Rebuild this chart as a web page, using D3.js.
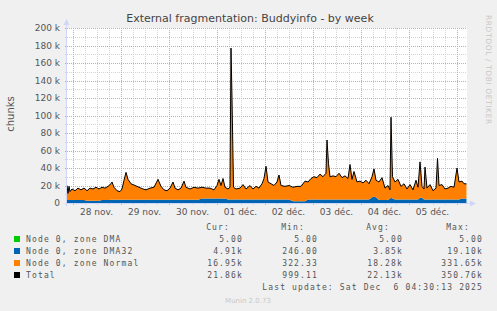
<!DOCTYPE html>
<html>
<head>
<meta charset="utf-8">
<script src="https://cdn.jsdelivr.net/npm/d3@7"></script>
<style>
  body { margin: 0; background: #f0f0f0; }
  svg { display: block; }
</style>
</head>
<body>
<script>
// hours after the start of the graph (Nov 27 21:15)
const hours = [0, 0.5, 1, 1.5, 2.5, 4, 5.5, 7, 8.5, 10, 11.5, 13, 14.5, 16, 17.5, 19, 20.5, 22, 22.5, 23.5,
  25, 26.5, 27.5, 28.5, 29.5, 30.5, 32, 34, 36, 38, 39.5, 41.5, 43.5, 45.5, 47, 48.5, 50, 51.5, 53, 54,
  55.5, 57, 58.5, 59.5, 61.5, 63.5, 65.5, 67.5, 69.5, 71.5, 73.5, 75, 76, 77, 78, 79, 80.5, 81.5, 82, 82.5,
  83.25, 84.5, 86.5, 88, 89.5, 91.5, 93, 94.5, 96, 97.5, 98.5, 99.5, 100.5, 102, 103.5, 105, 106, 107, 109, 111,
  113, 115, 117, 119, 120.5, 122, 123.5, 125, 126.5, 128, 129.5, 130, 130.75, 131.5, 133, 134.5, 136, 137.5, 139, 140.5,
  141.5, 142.5, 143.5, 145, 146.5, 148, 149.5, 151, 152.5, 153.5, 154.5, 156, 157.5, 159, 160.5, 161.5, 162, 162.75, 164, 165.5,
  167, 168.5, 170, 171.5, 173, 174.5, 175.5, 176.5, 177.5, 178.5, 179, 180, 181.5, 183, 184.5, 185.25, 186, 187.5, 189, 190.5,
  192, 193.5, 195, 196, 197.5, 198.5, 199.75];

// thousands of chunks
const dmaValue = 0.005;
const dma32 = [3.5, 3.5, 3.5, 3.5, 3.5, 3.5, 3.5, 3.5, 3.5, 2.5, 2.5, 2.5, 2.5, 2.5, 3.5, 3.5, 3.5, 3.8, 3.8, 3.8,
  3.8, 3.8, 3.8, 3.8, 3.8, 3.8, 3.8, 3.8, 3.8, 3.8, 3.8, 3.8, 3.8, 3.8, 3.8, 3.8, 3.8, 3.8, 3.8, 3.8,
  3.8, 3.8, 3.8, 3.8, 3.8, 3.8, 3.8, 5, 5, 5, 5, 5, 5, 5, 5, 5, 4, 4, 4, 4,
  4, 4, 4, 4, 4, 4, 4, 4, 4, 4, 4, 4, 4, 4, 4, 4, 4, 4, 4, 4,
  2, 2, 2, 2, 4, 4, 4, 4, 4, 4, 4, 4, 4, 4, 4, 4, 4, 4, 4, 4,
  4, 4, 4, 4, 4, 4, 4, 4, 6.5, 7, 6.5, 3.5, 3.5, 3.5, 3.5, 5, 6, 5, 4, 4,
  4, 4, 4, 4, 4, 4, 4, 6, 6, 4, 4, 4, 4, 4, 4, 4, 4, 4, 4, 4,
  4, 4, 4, 4, 5, 5, 4.91];
const normal = [16.5, 7.5, 15.5, 9.5, 12.5, 10.5, 13.5, 11.5, 13.5, 11.5, 14.5, 13.5, 15.5, 13.5, 14.5, 13.5, 15.5, 18.2, 20.2, 14.2,
  10.2, 9.2, 12.2, 22.2, 31.2, 23.2, 18.2, 16.2, 14.2, 12.2, 11.2, 13.2, 14.2, 23.2, 15.2, 11.2, 10.2, 13.2, 20.2, 13.2,
  11.2, 13.2, 21.2, 14.2, 12.2, 14.2, 13.2, 13, 12, 12, 10, 15, 22, 15, 23, 13, 12, 14, 173, 116,
  14, 12, 13, 17, 12, 16, 12, 15, 13, 18, 24, 38, 20, 18, 16, 20, 28, 16, 15, 16,
  16, 17, 17, 23, 20, 24, 26, 25, 29, 26, 30, 68, 41, 26, 27, 26, 30, 25, 27, 24,
  40, 23, 32, 20, 21, 19, 22, 18, 23.5, 32, 19.5, 20.5, 25.5, 13.5, 16.5, 10, 92, 25, 20, 23,
  15, 18, 12, 17, 11, 22, 14, 41, 13, 12, 37, 13, 17, 10, 13, 47, 16, 17, 12, 13,
  15, 14, 36, 20, 20, 17, 16.95];

const seriesNames = ['Node 0, zone DMA', 'Node 0, zone DMA32', 'Node 0, zone Normal', 'Total'];
const seriesColors = ['#00cc00', '#0066b3', '#ff8000', '#000000'];
const curValues = ['5.00', '4.91k', '16.95k', '21.86k'];
const minValues = ['5.00', '246.00', '322.33', '999.11'];
const avgValues = ['5.00', '3.85k', '18.28k', '22.13k'];
const maxValues = ['5.00', '19.10k', '331.65k', '350.76k'];
const yTicks = [0, 20, 40, 60, 80, 100, 120, 140, 160, 180, 200];

const W = 497, H = 311;
const L = 67, R = 467, T = 28, B = 203;
const start = new Date(Date.UTC(2025, 10, 27, 21, 15));
const end = new Date(start.getTime() + 200 * 3600e3);

const fr = d3.timeFormatLocale({
  dateTime: '%A %e %B %Y à %X', date: '%d/%m/%Y', time: '%H:%M:%S', periods: ['AM', 'PM'],
  days: ['dimanche', 'lundi', 'mardi', 'mercredi', 'jeudi', 'vendredi', 'samedi'],
  shortDays: ['dim.', 'lun.', 'mar.', 'mer.', 'jeu.', 'ven.', 'sam.'],
  months: ['janvier', 'février', 'mars', 'avril', 'mai', 'juin', 'juillet', 'août', 'septembre', 'octobre', 'novembre', 'décembre'],
  shortMonths: ['janv.', 'févr.', 'mars', 'avr.', 'mai', 'juin', 'juil.', 'août', 'sept.', 'oct.', 'nov.', 'déc.']
});
const dayFmt = fr.utcFormat('%d %b');

const rows = hours.map((h, i) => ({
  t: new Date(start.getTime() + h * 3600e3),
  dma: dmaValue, dma32: dma32[i], normal: normal[i]
}));

const svg = d3.select('body').append('svg').attr('width', W).attr('height', H);
svg.append('rect').attr('width', W).attr('height', H).attr('fill', '#f0f0f0');
svg.append('rect').attr('x', L).attr('y', T).attr('width', R - L).attr('height', B - T).attr('fill', '#ffffff');

const x = d3.scaleUtc().domain([start, end]).range([L, R]);
const y = d3.scaleLinear().domain([0, 200]).range([B, T]);

// grid
const grid = svg.append('g').attr('shape-rendering', 'crispEdges');
const minorY = d3.range(10, 201, 20);
grid.selectAll('.hmin').data(minorY).enter().append('line')
  .attr('x1', L - 2).attr('x2', R).attr('y1', d => Math.round(y(d)) + 0.5).attr('y2', d => Math.round(y(d)) + 0.5)
  .attr('stroke', '#d4d4d4').attr('stroke-dasharray', '1,1');
const minorX = d3.utcHour.every(6).range(start, end).filter(d => d.getUTCHours() !== 0);
grid.selectAll('.vmin').data(minorX).enter().append('line')
  .attr('x1', d => Math.round(x(d)) + 0.5).attr('x2', d => Math.round(x(d)) + 0.5).attr('y1', T).attr('y2', B + 2)
  .attr('stroke', '#d4d4d4').attr('stroke-dasharray', '1,1');
grid.selectAll('.hmaj').data(yTicks.filter(d => d > 0)).enter().append('line')
  .attr('x1', L - 2).attr('x2', R).attr('y1', d => Math.round(y(d)) + 0.5).attr('y2', d => Math.round(y(d)) + 0.5)
  .attr('stroke', '#eb9b9b').attr('stroke-dasharray', '1,1');
const days = d3.utcDay.range(start, end);
grid.selectAll('.vmaj').data(days).enter().append('line')
  .attr('x1', d => Math.round(x(d)) + 0.5).attr('x2', d => Math.round(x(d)) + 0.5).attr('y1', T).attr('y2', B + 2)
  .attr('stroke', '#eb9b9b').attr('stroke-dasharray', '1,1');

// stacked areas
const stack = d3.stack().keys(['dma', 'dma32', 'normal'])(rows);
const area = d3.area().x(d => x(d.data.t)).y0(d => y(d[0])).y1(d => y(d[1]));
svg.append('g').selectAll('path').data(stack).enter().append('path')
  .attr('d', area).attr('fill', (d, i) => seriesColors[i]);

const line = d3.line().x(d => x(d.t)).y(d => y(d.dma + d.dma32 + d.normal));
svg.append('path').datum(rows).attr('d', line)
  .attr('fill', 'none').attr('stroke', '#000').attr('stroke-width', 1);

// axes
const axisColor = '#cfd6f8';
svg.append('line').attr('x1', L - 0.5).attr('x2', L - 0.5).attr('y1', B + 3).attr('y2', T - 6)
  .attr('stroke', axisColor).attr('stroke-width', 1);
svg.append('path').attr('d', `M${L - 3.5},${T - 3}L${L + 2.5},${T - 3}L${L - 0.5},${T - 9}Z`).attr('fill', axisColor);
svg.append('line').attr('x1', L - 2).attr('x2', R + 5).attr('y1', B + 0.5).attr('y2', B + 0.5)
  .attr('stroke', axisColor).attr('stroke-width', 1);
svg.append('path').attr('d', `M${R + 3},${B - 2.5}L${R + 3},${B + 3.5}L${R + 9},${B + 0.5}Z`).attr('fill', axisColor);

// labels
const font = 'DejaVu Sans, sans-serif';
svg.append('g').selectAll('text').data(yTicks).enter().append('text')
  .attr('x', 60).attr('y', d => y(d)).attr('dy', '0.36em').attr('text-anchor', 'end')
  .attr('font-family', font).attr('font-size', 9).attr('fill', '#555')
  .text(d => d === 0 ? '0' : d + ' k');

const labelDays = days.map(d => d3.utcHour.offset(d, 12)).filter(d => d < end);
svg.append('g').selectAll('text').data(labelDays).enter().append('text')
  .attr('x', d => x(d)).attr('y', 215).attr('text-anchor', 'middle')
  .attr('font-family', font).attr('font-size', 9).attr('fill', '#555')
  .text(d => dayFmt(d));

svg.append('text').attr('x', 250).attr('y', 22).attr('text-anchor', 'middle')
  .attr('font-family', font).attr('font-size', 11).attr('fill', '#444')
  .text('External fragmentation: Buddyinfo - by week');

svg.append('text').attr('transform', 'translate(14,114) rotate(-90)').attr('text-anchor', 'middle')
  .attr('font-family', font).attr('font-size', 10).attr('fill', '#555').text('chunks');

svg.append('text').attr('transform', 'translate(486,15) rotate(90)')
  .attr('font-family', font).attr('font-size', 7.5).attr('letter-spacing', 0.6).attr('fill', '#c8c8c8')
  .text('RRDTOOL / TOBI OETIKER');

// legend
const mono = 'DejaVu Sans Mono, monospace';
const leg = svg.append('g').attr('font-family', mono).attr('font-size', 8).attr('letter-spacing', 1.15).attr('fill', '#555');
const colRight = [243, 318, 403, 483];
['Cur:', 'Min:', 'Avg:', 'Max:'].forEach((h, i) => {
  leg.append('text').attr('x', colRight[i] - 13).attr('y', 230).attr('text-anchor', 'end').text(h);
});
const table = [curValues, minValues, avgValues, maxValues];
seriesNames.forEach((name, r) => {
  const yy = 242 + r * 12;
  leg.append('rect').attr('x', 14).attr('y', yy - 6).attr('width', 6).attr('height', 6).attr('fill', seriesColors[r]);
  leg.append('text').attr('x', 26).attr('y', yy).text(name);
  table.forEach((col, c) => {
    leg.append('text').attr('x', colRight[c]).attr('y', yy).attr('text-anchor', 'end').text(col[r]);
  });
});
leg.append('text').attr('x', 483).attr('y', 290).attr('text-anchor', 'end').text('Last update: Sat Dec  6 04:30:13 2025')
  .attr('xml:space', 'preserve').style('white-space', 'pre');
svg.append('text').attr('x', 248).attr('y', 303).attr('text-anchor', 'middle')
  .attr('font-family', font).attr('font-size', 7).attr('fill', '#c8c8c8').text('Munin 2.0.73');
</script>
</body>
</html>
